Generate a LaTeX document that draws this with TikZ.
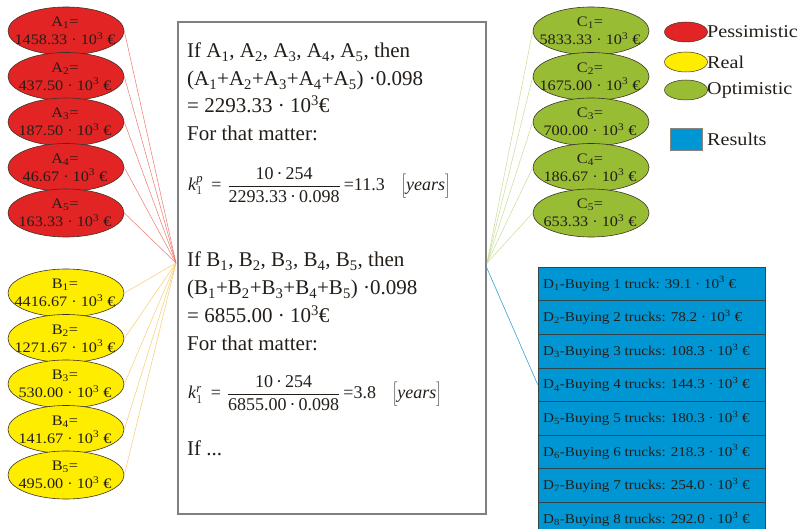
\documentclass[tikz,border=0pt]{standalone}
\usepackage{fontspec}
\setmainfont{Liberation Serif}
\newfontfamily\wide{Liberation Serif}[FakeStretch=1.12]
\usetikzlibrary{shapes.geometric}
\definecolor{pred}{RGB}{227,36,36}
\definecolor{pyel}{RGB}{255,237,0}
\definecolor{pgrn}{RGB}{152,189,52}
\definecolor{pblu}{RGB}{0,150,212}
\definecolor{lred}{RGB}{240,120,110}
\definecolor{lyel}{RGB}{250,205,110}
\definecolor{lgrn}{RGB}{200,222,150}
\definecolor{lblu}{RGB}{60,160,210}
\definecolor{edge}{RGB}{60,50,40}
\definecolor{txt}{RGB}{35,30,25}
\newcommand{\myfrac}[2]{$\displaystyle\frac{\hbox{#1}}{\hbox{#2}}$}
\begin{document}
\begin{tikzpicture}[x=1pt,y=-1pt,
  ell/.style={ellipse, draw=edge, line width=0.6pt, minimum width=116pt, minimum height=48pt, inner sep=0pt},
  elltext/.style={align=center, text=txt, inner sep=0pt, font=\wide\fontsize{14.5}{18}\selectfont},
  legell/.style={ellipse, draw=edge, line width=0.5pt, minimum width=43pt, minimum height=20pt, inner sep=0pt},
  legtext/.style={anchor=west, text=txt, inner sep=0pt, font=\wide\fontsize{18}{20}\selectfont},
  mainline/.style={anchor=base west, inner sep=0pt, text=txt, font=\fontsize{21}{28}\selectfont},
  formula/.style={anchor=west, inner sep=0pt, text=txt, font=\fontsize{18}{20}\selectfont},
  drow/.style={draw=edge!80!pblu, fill=pblu, line width=0.6pt, minimum width=227pt, minimum height=33.6pt, inner sep=0pt},
  dtext/.style={anchor=west, inner sep=0pt, text=txt, font=\wide\fontsize{13.5}{15}\selectfont},
  redline/.style={lred, line width=0.5pt},
  yelline/.style={lyel, line width=0.5pt},
  grnline/.style={lgrn, line width=0.5pt},
  bluline/.style={lblu, line width=0.6pt}
]
\clip (0,0) rectangle (806,529);
\fill[white] (0,0) rectangle (806,529);

% main box
\node[draw=gray, line width=1.6pt, minimum width=308pt, minimum height=492pt, anchor=north west, inner sep=0pt] (box) at (177,21) {};
\coordinate (L) at (176,263);
\coordinate (R) at (487,263);
\coordinate (R2) at (486,266);

% A ellipses
\foreach \n/\y/\v in {1/31/1458.33, 2/76.5/437.50, 3/122/187.50, 4/167.5/46.67, 5/213/163.33}{
  \node[ell, fill=pred] (a\n) at (66,\y) {};
  \node[elltext] (a\n t) at (65,\y) {A\textsubscript{\n}=\\\v\ · 10\textsuperscript{3} €};
}
% B ellipses
\foreach \n/\y/\v in {1/293/4416.67, 2/338.5/1271.67, 3/384/530.00, 4/429.5/141.67, 5/475/495.00}{
  \node[ell, fill=pyel] (b\n) at (66,\y) {};
  \node[elltext] (b\n t) at (65,\y) {B\textsubscript{\n}=\\\v\ · 10\textsuperscript{3} €};
}
% C ellipses
\foreach \n/\y/\v in {1/31/5833.33, 2/76.5/1675.00, 3/122/700.00, 4/167.5/186.67, 5/213/653.33}{
  \node[ell, fill=pgrn] (c\n) at (591,\y) {};
  \node[elltext] (c\n t) at (590,\y) {C\textsubscript{\n}=\\\v\ · 10\textsuperscript{3} €};
}

% connectors
\foreach \n in {1,...,5}{
  \draw[redline] (a\n.east) -- (L);
  \draw[yelline] (b\n.east) -- (L);
  \draw[grnline] (c\n.west) -- (R);
}

% main text block 1
\node[mainline] (t1) at (187,58) {If A\textsubscript{1}, A\textsubscript{2}, A\textsubscript{3}, A\textsubscript{4}, A\textsubscript{5}, then};
\node[mainline] (t2) at (187,86) {(A\textsubscript{1}+A\textsubscript{2}+A\textsubscript{3}+A\textsubscript{4}+A\textsubscript{5}) ·0.098};
\node[mainline] (t3) at (187,113) {= 2293.33 · 10\textsuperscript{3}€};
\node[mainline] (t4) at (187,141) {For that matter:};
\node[formula] (f1) at (188,185) {\textit{k}$_1^{\mathit{p}}$\hspace{8pt}=\hspace{6pt}\myfrac{10\,·\,254}{2293.33\,·\,0.098}\,=11.3\hspace{16pt}$\Bigg[$\textit{years}$\Bigg]$};

% main text block 2
\node[mainline] (s1) at (187,267) {If B\textsubscript{1}, B\textsubscript{2}, B\textsubscript{3}, B\textsubscript{4}, B\textsubscript{5}, then};
\node[mainline] (s2) at (187,295) {(B\textsubscript{1}+B\textsubscript{2}+B\textsubscript{3}+B\textsubscript{4}+B\textsubscript{5}) ·0.098};
\node[mainline] (s3) at (187,323) {= 6855.00 · 10\textsuperscript{3}€};
\node[mainline] (s4) at (187,350) {For that matter:};
\node[formula] (f2) at (188,393) {\textit{k}$_1^{\mathit{r}}$\hspace{8pt}=\hspace{6pt}\myfrac{10\,·\,254}{6855.00\,·\,0.098}\,=3.8\hspace{16pt}$\Bigg[$\textit{years}$\Bigg]$};
\node[mainline] (s5) at (187,455) {If ...};

% legend
\node[legell, fill=pred] (lg1) at (686,32) {};
\node[legtext] (lg1t) at (707,32) {Pessimistic};
\node[legell, fill=pyel] (lg2) at (686,62) {};
\node[legtext] (lg2t) at (707,62) {Real};
\node[legell, fill=pgrn] (lg3) at (686,90) {};
\node[legtext] (lg3t) at (707,90) {Optimistic};
\node[draw=edge!60, fill=pblu, line width=0.5pt, minimum width=32pt, minimum height=22pt, inner sep=0pt] (lg4) at (686,139) {};
\node[legtext] (lg4t) at (707,139) {Results};

% D rows
\foreach \n/\k/\s/\v in {1/1/truck/39.1, 2/2/trucks/78.2, 3/3/trucks/108.3, 4/4/trucks/144.3, 5/5/trucks/180.3, 6/6/trucks/218.3, 7/7/trucks/254.0, 8/8/trucks/292.0}{
  \node[drow] (d\n) at (651.5,{267+33.6*(\n-0.5)}) {};
  \node[dtext] (d\n t) at (543,{267+33.6*(\n-0.5)}) {D\textsubscript{\n}-Buying \k\ \s: \v\ · 10\textsuperscript{3} €};
}
\draw[bluline] (R2) -- (d4.west);
\end{tikzpicture}
\end{document}
